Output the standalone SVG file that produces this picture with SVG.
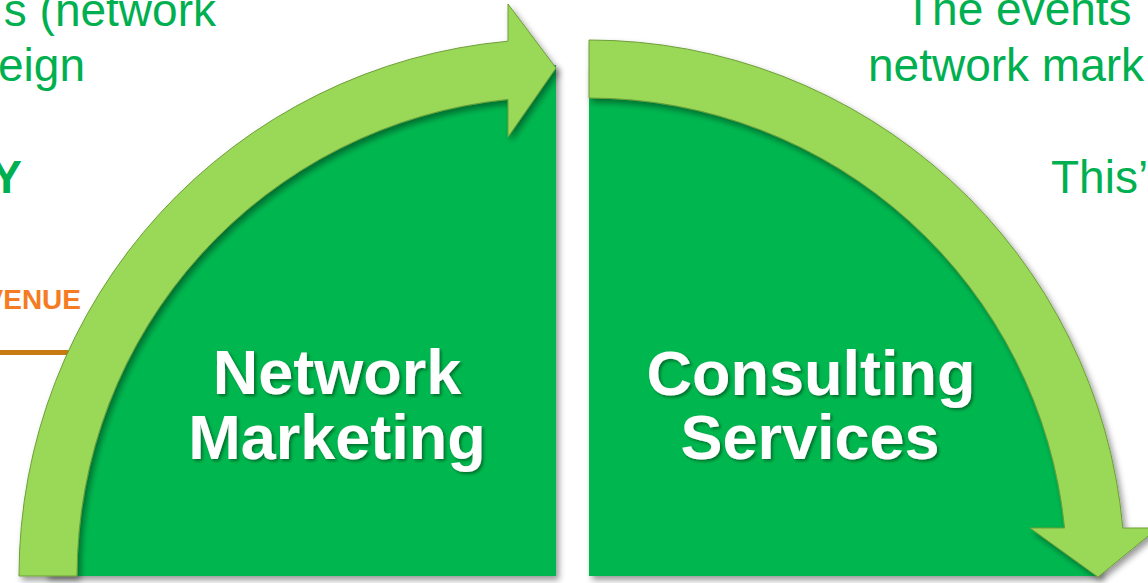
<svg xmlns="http://www.w3.org/2000/svg" width="1148" height="583" viewBox="0 0 1148 583">
<defs>
<filter id="sh" x="-10%" y="-10%" width="120%" height="120%">
<feDropShadow dx="3" dy="4" stdDeviation="3" flood-color="#000" flood-opacity="0.4"/>
</filter>
<filter id="tsh" x="-10%" y="-10%" width="120%" height="130%">
<feDropShadow dx="2" dy="2" stdDeviation="1.5" flood-color="#004010" flood-opacity="0.6"/>
</filter>
<style>
.sector{fill:#00B750;}
.band{fill:#9AD858;stroke:#6E9E38;stroke-width:1;}
.body{font-family:"Liberation Sans",Arial,sans-serif;font-size:46px;fill:#00B050;}
.lbl{font-family:"Liberation Sans",Arial,sans-serif;font-size:63px;font-weight:bold;fill:#fff;text-anchor:middle;}
</style>
</defs>
<rect width="1148" height="583" fill="#fff"/>
<g id="background-text">
<text class="body" x="216" y="26" text-anchor="end">s (network</text>
<text class="body" x="85" y="81" text-anchor="end">eign</text>
<text class="body" x="22" y="193" text-anchor="end" font-weight="bold">Y</text>
<text x="81" y="309" text-anchor="end" font-family="Liberation Sans,Arial,sans-serif" font-size="28" font-weight="bold" fill="#F57C22">VENUE</text>
<line x1="0" y1="352.5" x2="80" y2="352.5" stroke="#C77B12" stroke-width="5"/>
<text class="body" x="904" y="25">The events</text>
<text class="body" x="868" y="81">network mark</text>
<text class="body" x="1051" y="193">This’</text>
</g>
<g id="node-network-marketing">
<path class="sector" filter="url(#sh)" d="M556 576 L556 65 A511 511 0 0 0 45 576 Z"/>
<path class="band" filter="url(#sh)" d="M19 576 A537 537 0 0 1 508 41.2 L508 4 L556 68 L508 137 L508 99.4 A479 479 0 0 0 77 576 Z"/>
<g filter="url(#tsh)">
<text class="lbl" x="337" y="394">Network</text>
<text class="lbl" x="337" y="459">Marketing</text>
</g>
</g>
<g id="node-consulting-services">
<path class="sector" filter="url(#sh)" d="M589 576 L589 65 A511 511 0 0 1 1100 576 Z"/>
<path class="band" filter="url(#sh)" d="M589 40 A536 536 0 0 1 1122.8 528 L1158 528 L1098 577 L1030 528 L1064.6 528 A478 478 0 0 0 589 98 Z"/>
<g filter="url(#tsh)">
<text class="lbl" x="811" y="395">Consulting</text>
<text class="lbl" x="810" y="459">Services</text>
</g>
</g>
<g id="connectors"></g>
</svg>
